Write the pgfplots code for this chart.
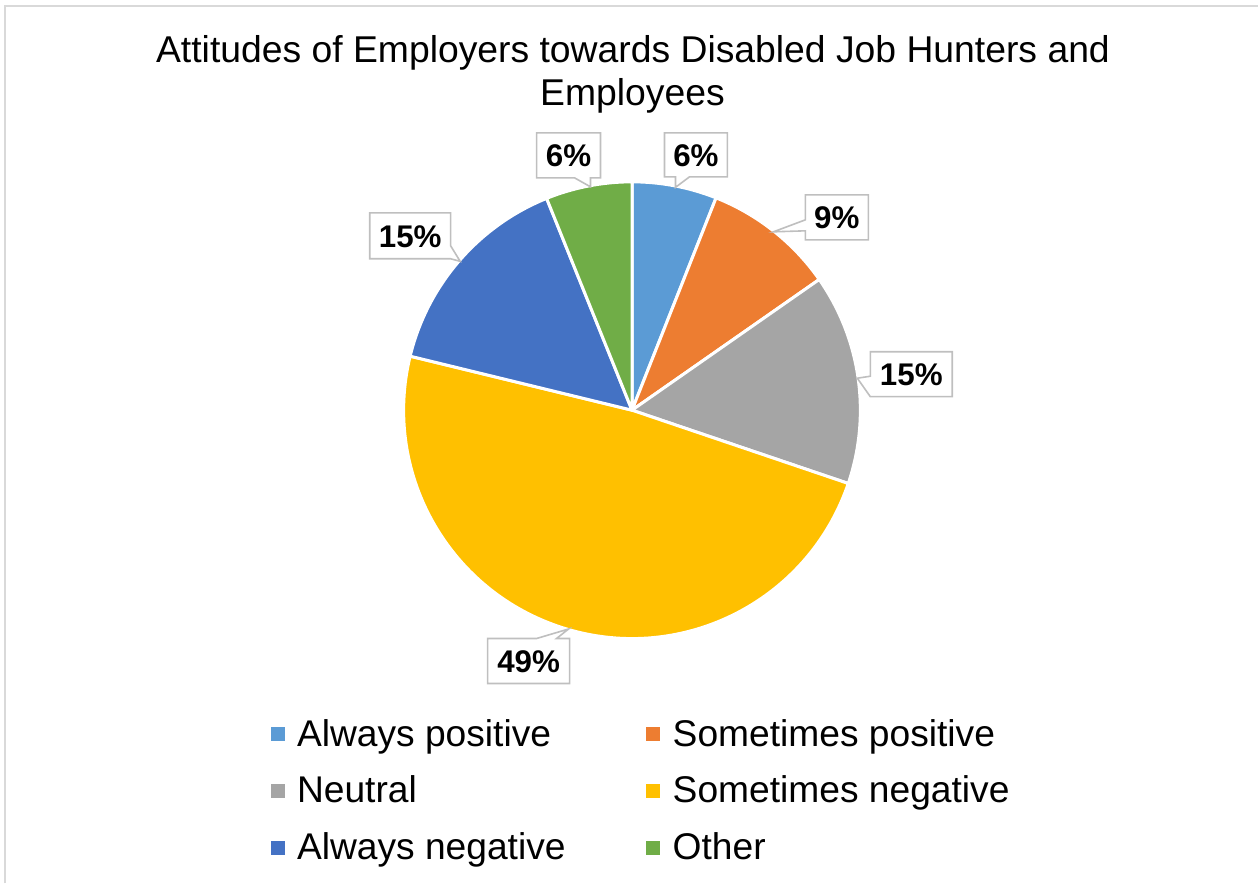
\documentclass[border=0pt]{standalone}
\usepackage{fontspec}
\setmainfont{Liberation Sans}
\usepackage{pgfplots}
\usepackage{pgfplotstable}
\pgfplotsset{compat=1.18}
\definecolor{c1}{HTML}{5B9BD5}
\definecolor{c2}{HTML}{ED7D31}
\definecolor{c3}{HTML}{A5A5A5}
\definecolor{c4}{HTML}{FFC000}
\definecolor{c5}{HTML}{4472C4}
\definecolor{c6}{HTML}{70AD47}
\definecolor{boxgray}{HTML}{BFBFBF}
\definecolor{framegray}{HTML}{D9D9D9}

% share (%), colour, label position (baseline of the data label)
\pgfplotstableread[col sep=comma]{
name,value,color,lx,ly
Always positive,6.0,c1,696.5,166.5
Sometimes positive,9.3,c2,837.5,229
Neutral,14.9,c3,912,386
Sometimes negative,48.6,c4,529,673
Always negative,15.1,c5,410.5,247.5
Other,6.1,c6,569,166.5
}\piedata

\begin{document}
\begin{tikzpicture}
\begin{axis}[
  width=944.25pt, height=663pt, scale only axis,
  xmin=0, xmax=1259, ymin=0, ymax=884, y dir=reverse,
  hide axis, clip=false,
]
\pgfplotsextra{%
  \path (axis cs:0,0) (axis cs:1259,884);
  % frame
  \draw[framegray, line width=1.5pt] (axis cs:5.5,884) -- (axis cs:5.5,6.5) -- (axis cs:1259,6.5);
  % title
  \node[anchor=base, inner sep=0pt, font=\fontsize{28}{33}\selectfont] at (axis cs:633.5,62.7) {Attitudes of Employers towards Disabled Job Hunters and};
  \node[anchor=base, inner sep=0pt, font=\fontsize{28}{33}\selectfont] at (axis cs:633,105.5) {Employees};
  % pie
  \gdef\angA{90}%
  \foreach \i in {0,...,5}{%
    \pgfplotstablegetelem{\i}{value}\of\piedata \let\pv\pgfplotsretval
    \pgfplotstablegetelem{\i}{color}\of\piedata \let\pc\pgfplotsretval
    \pgfmathsetmacro{\angB}{\angA-3.6*\pv}%
    \filldraw[fill=\pc, draw=white, line width=2.25pt, line join=round]
      (axis cs:632.5,410.5) -- ++(\angA:171.4pt) arc[start angle=\angA, end angle=\angB, radius=171.4pt] -- cycle;
    \global\let\angA\angB
  }%
  % callouts
  \begin{scope}[draw=boxgray, fill=white, line width=1.2pt, line join=miter]
  \filldraw (axis cs:665,133) -- (axis cs:728,133) -- (axis cs:728,177) -- (axis cs:690,177) -- (axis cs:676,187.5) -- (axis cs:676,177) -- (axis cs:665,177) -- cycle;
  \filldraw (axis cs:806,195) -- (axis cs:869,195) -- (axis cs:869,240) -- (axis cs:806,240) -- (axis cs:806,231) -- (axis cs:774,232) -- (axis cs:806,220) -- cycle;
  \filldraw (axis cs:871,352) -- (axis cs:953,352) -- (axis cs:953,397) -- (axis cs:871,397) -- (axis cs:858,378.5) -- (axis cs:871,376.5) -- cycle;
  \filldraw (axis cs:488,639) -- (axis cs:537,639) -- (axis cs:569,629.5) -- (axis cs:557,639) -- (axis cs:570,639) -- (axis cs:570,684) -- (axis cs:488,684) -- cycle;
  \filldraw (axis cs:370,213) -- (axis cs:451,213) -- (axis cs:451,246) -- (axis cs:460.5,261.5) -- (axis cs:451,259) -- (axis cs:370,259) -- cycle;
  \filldraw (axis cs:537,133) -- (axis cs:601,133) -- (axis cs:601,178) -- (axis cs:591,178) -- (axis cs:591,187) -- (axis cs:575,178) -- (axis cs:537,178) -- cycle;
  \end{scope}
  % data labels
  \foreach \i in {0,...,5}{%
    \pgfplotstablegetelem{\i}{value}\of\piedata \let\pv\pgfplotsretval
    \pgfplotstablegetelem{\i}{lx}\of\piedata \let\plx\pgfplotsretval
    \pgfplotstablegetelem{\i}{ly}\of\piedata \let\ply\pgfplotsretval
    \node[anchor=base, inner sep=0pt, font=\bfseries\fontsize{23.5}{28}\selectfont]
      at (axis cs:\plx,\ply) {\pgfmathprintnumber[fixed,precision=0,assume math mode=true]{\pv}\%};
  }%
  % legend
  \foreach \i in {0,...,5}{%
    \pgfplotstablegetelem{\i}{name}\of\piedata \let\pn\pgfplotsretval
    \pgfplotstablegetelem{\i}{color}\of\piedata \let\pc\pgfplotsretval
    \pgfmathsetmacro{\lcol}{mod(\i,2)}%
    \pgfmathsetmacro{\lrow}{floor(\i/2)}%
    \pgfmathsetmacro{\mx}{278+376*\lcol}%
    \pgfmathsetmacro{\tx}{297+376*\lcol}%
    \pgfmathsetmacro{\by}{746.7+56.65*\lrow}%
    \pgfmathsetmacro{\my}{\by-11.7}%
    \fill[\pc] (axis cs:\mx-7,\my-7) rectangle (axis cs:\mx+7,\my+7);
    \node[anchor=base west, inner sep=0pt, font=\fontsize{27.9}{32}\selectfont] at (axis cs:\tx,\by) {\pn};
  }%
}
\end{axis}
\end{tikzpicture}
\end{document}
